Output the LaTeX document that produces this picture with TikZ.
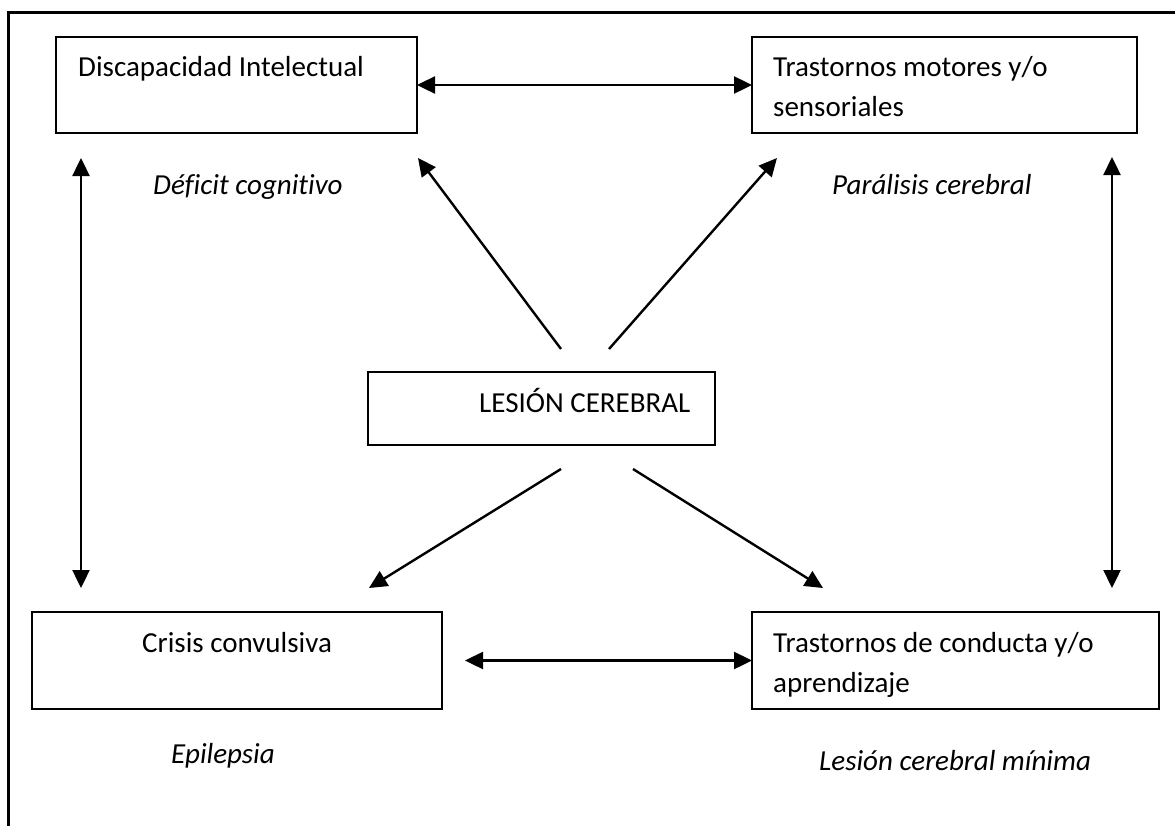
\documentclass[tikz,border=0pt]{standalone}
\usepackage{fontspec}
\setmainfont{Carlito}[Ligatures=CommonOff]
\usetikzlibrary{arrows.meta}
\tikzset{
  box/.style={draw, line width=2.4pt, inner sep=0pt, outer sep=0pt, anchor=north west},
  txt/.style={anchor=base west, inner sep=0pt, font=\fontsize{29}{40}\selectfont},
  itxt/.style={anchor=base west, inner sep=0pt, font=\fontsize{29}{40}\selectfont\itshape},
  conn/.style={line width=2.4pt, -{Triangle[length=18pt,width=17pt]}},
  dconn/.style={line width=2.4pt, {Triangle[length=18pt,width=17pt]}-{Triangle[length=18pt,width=17pt]}},
}
\begin{document}
\begin{tikzpicture}[x=1pt,y=-1pt]
\useasboundingbox (0,0) rectangle (1175,825);
% outer frame
\draw[line width=3pt] (1180,12) -- (8,12) -- (8,830);
% boxes
\node[box, minimum width=361pt, minimum height=96pt] (di) at (56,37) {};
\node[box, minimum width=385pt, minimum height=96pt] (tm) at (752,37) {};
\node[box, minimum width=347pt, minimum height=73pt] (lc) at (368,372) {};
\node[box, minimum width=410pt, minimum height=97pt] (cc) at (32,612) {};
\node[box, minimum width=407pt, minimum height=97pt] (cd) at (752,612) {};
% box texts
\node[txt] (tdi) at (78,76) {Discapacidad Intelectual};
\node[txt] (ttm1) at (773,76) {Trastornos motores y/o};
\node[txt] (ttm2) at (773,116) {sensoriales};
\node[txt] (tlc) at (479,412) {LESIÓN CEREBRAL};
\node[txt] (tcc) at (142,652) {Crisis convulsiva};
\node[txt] (tcd1) at (773,652) {Trastornos de conducta y/o};
\node[txt] (tcd2) at (773,692) {aprendizaje};
% italic labels
\node[itxt] (l1) at (153,194) {Déficit cognitivo};
\node[itxt] (l2) at (832,194) {Parálisis cerebral};
\node[itxt] (l3) at (171,763) {Epilepsia};
\node[itxt] (l4) at (819,770) {Lesión cerebral mínima};
% free ends
\coordinate (lvT) at (81,158);
\coordinate (lvB) at (81,588);
\coordinate (rvT) at (1112,157);
\coordinate (rvB) at (1112,588);
\coordinate (bh) at (465,660.5);
\coordinate (sUL) at (561,349);
\coordinate (eUL) at (418,158);
\coordinate (sUR) at (609,349);
\coordinate (eUR) at (777,158);
\coordinate (sLL) at (561,469);
\coordinate (eLL) at (369,588);
\coordinate (sLR) at (633,469);
\coordinate (eLR) at (823,588);
% connectors
\draw[dconn] (di.east) -- (tm.west);
\draw[dconn] (bh) -- (cd.west);
\draw[dconn] (lvT) -- (lvB);
\draw[dconn] (rvT) -- (rvB);
\draw[conn] (sUL) -- (eUL);
\draw[conn] (sUR) -- (eUR);
\draw[conn] (sLL) -- (eLL);
\draw[conn] (sLR) -- (eLR);
\end{tikzpicture}
\end{document}
